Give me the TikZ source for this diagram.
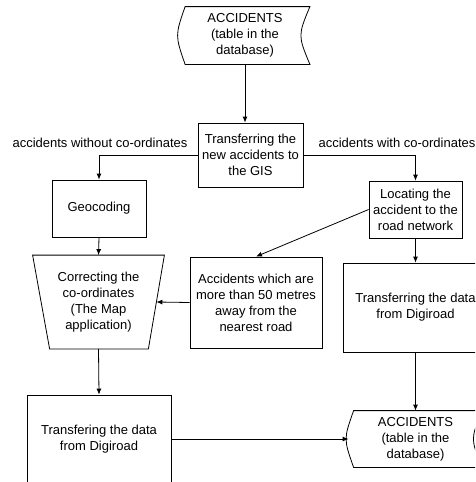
\documentclass[tikz,border=0pt]{standalone}
\usepackage{fontspec}
\setmainfont{Liberation Sans}
\usetikzlibrary{arrows.meta}
% outline of a stored data table around a plain node
\newcommand\dbshape[1]{%
  \draw ([xshift=5pt]#1.north west) -- (#1.north east)
    .. controls ([xshift=-12pt]#1.east) .. (#1.south east)
    -- ([xshift=5pt]#1.south west)
    .. controls ([xshift=-5pt]#1.west) .. cycle;}
\begin{document}
\begin{tikzpicture}[x=1pt,y=1pt,line width=0.8pt,
  font=\fontsize{13}{16}\selectfont,
  >={Latex[length=6pt,width=5pt]},
  box/.style={draw, align=center, inner sep=0pt},
  store/.style={align=center, inner sep=0pt},
  branch/.style={inner sep=0pt}]
\useasboundingbox (0,0) rectangle (475,-482);
\clip (0,0) rectangle (475,-482);
\node[store, minimum width=129pt, minimum height=57pt] (acctop) at (245,-35.5) {ACCIDENTS\\(table in the\\database)};
\dbshape{acctop}
\node[box, minimum width=105pt, minimum height=64pt] (trans) at (250.5,-155) {Transferring the\\new accidents to\\the GIS};
\node[branch] (nocoord) at (100,-143) {accidents without co-ordinates};
\node[branch] (coord) at (397,-143) {accidents with co-ordinates};
\node[box, minimum width=94pt, minimum height=57pt] (geo) at (99,-208.5) {Geocoding};
\node[box, minimum width=93pt, minimum height=57pt] (loc) at (415.5,-209.5) {Locating the\\accident to the\\road network};
\node[store, minimum width=115pt, minimum height=93pt] (corr) at (98.5,-302) {Correcting the\\co-ordinates\\(The Map\\application)};
% manual operation: wide at the top, narrow at the bottom
\draw ([xshift=-8pt]corr.north west) -- ([xshift=8pt]corr.north east)
  -- ([xshift=-8pt]corr.south east) -- ([xshift=9pt]corr.south west) -- cycle;
\node[box, minimum width=132pt, minimum height=91pt] (far) at (256,-302.5) {Accidents which are\\more than 50 metres\\away from the\\nearest road};
\node[box, minimum width=145pt, minimum height=89pt] (digr) at (415.5,-307.5) {Transferring the data\\from Digiroad};
\node[box, minimum width=144pt, minimum height=88pt] (digl) at (99,-439) {Transfering the data\\from Digiroad};
\node[store, minimum width=133pt, minimum height=56pt] (accbot) at (415.5,-439) {ACCIDENTS\\(table in the\\database)};
\dbshape{accbot}
\draw[->] (acctop.south) -- (acctop.south |- trans.north);
\draw[->] (trans.west) -| (geo.north);
\draw[->] (trans.east) -| (loc.north);
\draw[->] (loc.west) -- (far.north);
\draw[->] (geo.south) -- (corr.north);
\draw[->] (far.west) -- (corr.east);
\draw[->] (loc.south) -- (digr.north);
\draw[->] (corr.south) -- (digl.north);
\draw[->] (digr.south) -- (accbot.north);
\draw[->] (digl.east) -- (accbot.west);
\end{tikzpicture}
\end{document}
